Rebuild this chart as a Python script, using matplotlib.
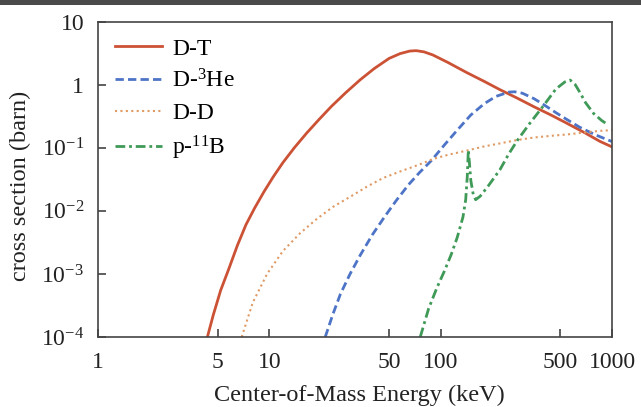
import matplotlib
matplotlib.use("Agg")
import matplotlib.pyplot as plt
from matplotlib.patches import Rectangle

plt.rcParams['font.family'] = ['Liberation Serif', 'DejaVu Serif']
plt.rcParams['mathtext.fontset'] = 'custom'
plt.rcParams['mathtext.rm'] = 'Liberation Serif'
plt.rcParams['mathtext.it'] = 'Liberation Serif:italic'
plt.rcParams['mathtext.default'] = 'regular'

# ---- data ----
dt_E = [4.35, 4.7, 5.2, 5.8, 6.5, 7.3, 8.2, 9.3, 10.5, 12, 14, 16.5, 19.5, 23, 28, 34, 41, 50, 58, 66, 72, 80, 90, 110, 142, 180, 222, 280, 348, 440, 545, 700, 850, 1000]
dt_s = [1e-4, 2.2e-4, 5.5e-4, 1.2e-3, 2.8e-3, 6e-3, 0.011, 0.02, 0.034, 0.058, 0.1, 0.17, 0.28, 0.45, 0.75, 1.2, 1.8, 2.6, 3.1, 3.4, 3.45, 3.3, 2.95, 2.25, 1.55, 1.12, 0.83, 0.61, 0.45, 0.33, 0.244, 0.17, 0.126, 0.103]

dhe_E = [21.2, 23.5, 26, 29.6, 34, 40, 47, 55, 65, 75, 88, 105, 125, 150, 180, 210, 250, 270, 300, 350, 400, 470, 545, 650, 800, 1000]
dhe_s = [1e-4, 2.3e-4, 4.8e-4, 1e-3, 2e-3, 4.2e-3, 8e-3, 0.0145, 0.026, 0.04, 0.062, 0.11, 0.19, 0.33, 0.5, 0.65, 0.76, 0.77, 0.73, 0.6, 0.48, 0.36, 0.28, 0.21, 0.16, 0.125]

dd_E = [6.9, 8, 9.7, 12, 15.1, 19, 23.6, 30, 37, 46, 58, 75, 90, 110, 142, 180, 222, 278, 350, 450, 545, 700, 850, 1000]
dd_s = [1e-4, 3.5e-4, 1.0e-3, 2.3e-3, 4.4e-3, 7.5e-3, 0.0116, 0.017, 0.024, 0.033, 0.042, 0.054, 0.066, 0.077, 0.09, 0.105, 0.117, 0.132, 0.145, 0.155, 0.162, 0.175, 0.185, 0.19]

pb_E = [76, 85, 95, 105, 115, 125, 135, 140, 143, 145, 147, 150, 155, 160, 170, 190, 222, 250, 280, 330, 400, 470, 530, 570, 610, 650, 700, 780, 870, 950]
pb_s = [1e-4, 2.8e-4, 6e-4, 1.1e-3, 2e-3, 3.8e-3, 8e-3, 0.015, 0.035, 0.092, 0.06, 0.03, 0.018, 0.015, 0.017, 0.025, 0.045, 0.08, 0.13, 0.24, 0.47, 0.85, 1.1, 1.18, 1.0, 0.75, 0.52, 0.35, 0.27, 0.23]

labels = ['D-T', 'D-$^{3}$He', 'D-D', 'p-$^{11}$B']
xticks = [1, 5, 10, 50, 100, 500, 1000]
xticklabels = ['1', '5', '10', '50', '100', '500', '1000']
yticks = [10, 1, 0.1, 0.01, 0.001, 0.0001]
yticklabels = ['10', '1', '10$^{-1}$', '10$^{-2}$', '10$^{-3}$', '10$^{-4}$']

# ---- figure ----
fig = plt.figure(figsize=(6.41, 4.07), dpi=100)
ax = fig.add_axes([98/641, 1-337/407, 514/641, 315.5/407])

ax.plot(dt_E, dt_s, color='#cc5236', lw=2.0, ls='-', label=labels[0])
ax.plot(dhe_E, dhe_s, color='#4d74c6', lw=2.0, ls=(0, (3, 1.5)), label=labels[1])
ax.plot(dd_E, dd_s, color='#e09a64', lw=1.5, ls=(0, (1, 1.6)), label=labels[2])
ax.plot(pb_E, pb_s, color='#3f9a57', lw=2.0, ls=(0, (3.5, 1.4, 1, 1.4)), label=labels[3])

ax.set_xscale('log')
ax.set_yscale('log')
ax.set_xlim(1, 1000)
ax.set_ylim(1e-4, 10)

ax.minorticks_off()
ax.set_xticks(xticks)
ax.set_xticklabels(xticklabels)
ax.set_yticks(yticks)
ax.set_yticklabels(yticklabels)
ax.tick_params(axis='both', direction='in', length=6, width=1.1, colors='#333333',
               labelsize=17, labelcolor='#222222')
ax.tick_params(axis='x', pad=11)
ax.tick_params(axis='y', pad=10)
for s in ax.spines.values():
    s.set_color('#444444')
    s.set_linewidth(1.2)

ax.set_xlabel('Center-of-Mass Energy (keV)', fontsize=17.5, color='#222222')
ax.xaxis.set_label_coords(0.508, -0.15)
ax.set_ylabel('cross section (barn)', fontsize=17.5, color='#222222')
ax.yaxis.set_label_coords(-0.13, 0.479)

leg = ax.legend(loc='upper left', frameon=False, fontsize=17, handlelength=2.0,
                handletextpad=0.45, labelspacing=0.42, borderaxespad=0.3,
                bbox_to_anchor=(0.0, 1.0))

fig.add_artist(Rectangle((0, 1-5/407), 1, 5/407, transform=fig.transFigure,
                         color='#4a4a4a', lw=0))

fig.savefig('out.png', dpi=100)
